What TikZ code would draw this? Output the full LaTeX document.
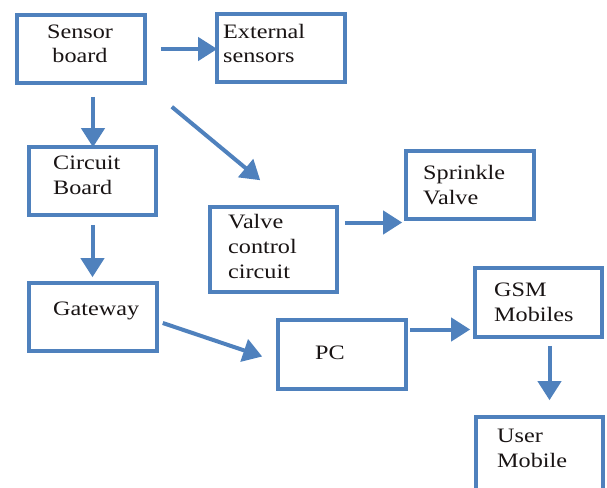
\documentclass[tikz,border=0pt]{standalone}
\usepackage{fontspec}
\setmainfont{Liberation Serif}[FakeStretch=1.18]
\usetikzlibrary{arrows.meta}
\definecolor{boxblue}{RGB}{79,129,189}
\definecolor{txt}{RGB}{25,20,20}
\tikzset{
  blk/.style={draw=boxblue, line width=3.6pt, rectangle, inner sep=0pt, fill=white},
  lbl/.style={anchor=base west, inner sep=0pt, align=left, text=txt,
              font=\fontsize{20.5}{24.6}\selectfont},
  arr/.style={draw=boxblue, line width=4pt,
              -{Triangle[length=19pt,width=23pt]}},
}
\begin{document}
\begin{tikzpicture}[x=1pt,y=-1pt]
\useasboundingbox (0,0) rectangle (607,487);
\clip (0,0) rectangle (607,487);
% boxes
\node[blk, minimum width=128pt, minimum height=68pt] (sensor)   at (81,49)    {};
\node[blk, minimum width=128pt, minimum height=68pt] (ext)      at (281,48)   {};
\node[blk, minimum width=127pt, minimum height=68pt] (circuit)  at (92.5,181) {};
\node[blk, minimum width=127pt, minimum height=85pt] (valve)    at (273.5,249.5) {};
\node[blk, minimum width=128pt, minimum height=68pt] (sprinkle) at (470,185)  {};
\node[blk, minimum width=128pt, minimum height=68pt] (gateway)  at (93,317)   {};
\node[blk, minimum width=128pt, minimum height=69pt] (pc)       at (342,354.5) {};
\node[blk, minimum width=127pt, minimum height=69pt] (gsm)      at (538.5,302.5) {};
\node[blk, minimum width=127pt, minimum height=84pt] (user)     at (539.5,459) {};
% labels (anchored at the baseline of the last line)
\node[lbl, anchor=base, align=center] (sensor-t) at (80,63) {Sensor\\board};
\node[lbl] (ext-t)      at (223,63)  {External\\sensors};
\node[lbl] (circuit-t)  at (53,194)  {Circuit\\Board};
\node[lbl] (valve-t)    at (228,278) {Valve\\control\\circuit};
\node[lbl] (sprinkle-t) at (423,204) {Sprinkle\\Valve};
\node[lbl] (gateway-t)  at (53,315)  {Gateway};
\node[lbl] (pc-t)       at (315,359) {PC};
\node[lbl] (gsm-t)      at (494,321) {GSM\\Mobiles};
\node[lbl] (user-t)     at (497,467) {User\\Mobile};
% connector end points
\coordinate (s1) at ([xshift=14pt]sensor.east);
\coordinate (s2) at ([shift={(12,12)}]sensor.south);
\coordinate (c1) at ([shift={(0,8)}]circuit.south);
\coordinate (v1) at ([shift={(6,-27)}]valve.east);
\coordinate (p1) at ([shift={(2,-25)}]pc.east);
\coordinate (g1) at ([shift={(11,7)}]gsm.south);
% connectors
\draw[arr] (s1) -- ([xshift=2pt]ext.west |- s1);
\draw[arr] (s2) -- ([yshift=-2pt]s2 |- circuit.north);
\draw[arr] ([shift={(25,22)}]sensor.south east) -- ([shift={(52,-25)}]valve.north west);
\draw[arr] (c1) -- ([yshift=4pt]c1 |- gateway.north);
\draw[arr] (v1) -- ([xshift=-2pt]sprinkle.west |- v1);
\draw[arr] ([shift={(4,6)}]gateway.east) -- ([shift={(-14,2)}]pc.west);
\draw[arr] (p1) -- ([xshift=-3pt]gsm.west |- p1);
\draw[arr] (g1) -- ([yshift=15pt]g1 |- user.north);
\end{tikzpicture}
\end{document}
